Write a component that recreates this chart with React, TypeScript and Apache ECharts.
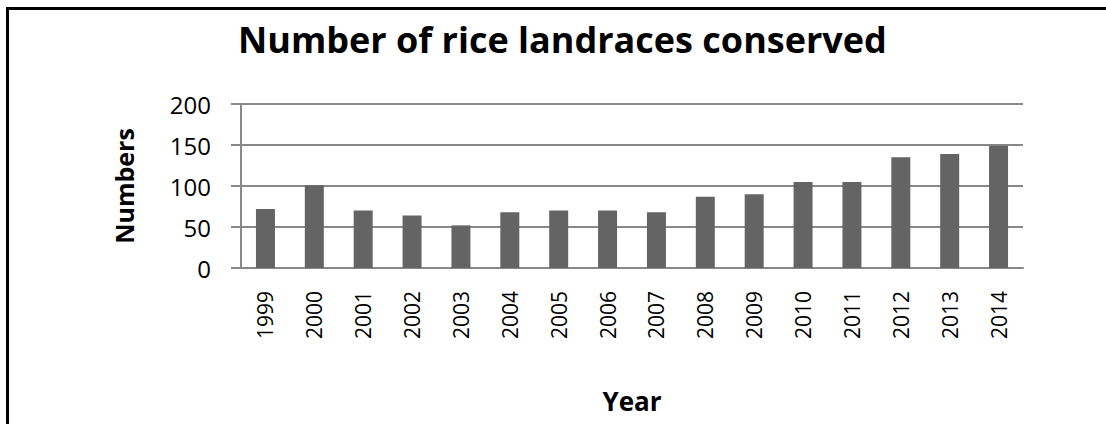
import React, { useEffect, useRef } from "react";
import * as echarts from "echarts";

const years = [
  "1999", "2000", "2001", "2002", "2003", "2004", "2005", "2006",
  "2007", "2008", "2009", "2010", "2011", "2012", "2013", "2014",
];
const landraces = [72, 101, 70, 64, 52, 68, 70, 70, 68, 87, 90, 105, 105, 135, 139, 149];
const yTicks = { min: 0, max: 200, interval: 50 };

const FONT = "'Open Sans', 'Noto Sans', sans-serif";

export default function App() {
  const ref = useRef<HTMLDivElement>(null);

  useEffect(() => {
    document.body.style.margin = "0";
    if (!ref.current) return;
    const chart = echarts.init(ref.current, undefined, { renderer: "svg" });
    chart.setOption({
      animation: false,
      backgroundColor: "#ffffff",
      title: {
        text: "Number of rice landraces conserved",
        left: 233,
        top: 16,
        textStyle: { fontFamily: FONT, fontSize: 36, fontWeight: "bold", color: "#000" },
      },
      graphic: [
        {
          type: "line",
          shape: { x1: 6, y1: 8.5, x2: 1106, y2: 8.5 },
          style: { stroke: "#000", lineWidth: 3 },
        },
        {
          type: "line",
          shape: { x1: 7.5, y1: 7, x2: 7.5, y2: 424 },
          style: { stroke: "#000", lineWidth: 3 },
        },
      ],
      grid: { left: 241, right: 83, top: 104, bottom: 156, containLabel: false },
      xAxis: {
        type: "category",
        data: years,
        name: "Year",
        nameLocation: "middle",
        nameGap: 120,
        nameTextStyle: { fontFamily: FONT, fontSize: 26, fontWeight: "bold", color: "#000" },
        axisLine: { lineStyle: { color: "#888888", width: 2 } },
        axisTick: { show: false },
        axisLabel: {
          rotate: 90,
          margin: 23,
          fontFamily: FONT,
          fontSize: 21,
          color: "#000",
        },
      },
      yAxis: {
        type: "value",
        min: yTicks.min,
        max: yTicks.max,
        interval: yTicks.interval,
        name: "Numbers",
        nameLocation: "middle",
        nameRotate: 90,
        nameGap: 105,
        nameTextStyle: { fontFamily: FONT, fontSize: 25, fontWeight: "bold", color: "#000" },
        axisLine: { show: true, lineStyle: { color: "#888888", width: 2 } },
        axisTick: { show: true, length: 10, lineStyle: { color: "#888888", width: 2 } },
        axisLabel: { margin: 30, fontFamily: FONT, fontSize: 24, color: "#000" },
        splitLine: { show: true, lineStyle: { color: "#888888", width: 2 } },
      },
      series: [
        {
          type: "bar",
          data: landraces,
          barWidth: 19,
          itemStyle: { color: "#646464" },
        },
      ],
    });
    return () => chart.dispose();
  }, []);

  return <div ref={ref} style={{ width: 1106, height: 424 }} />;
}
